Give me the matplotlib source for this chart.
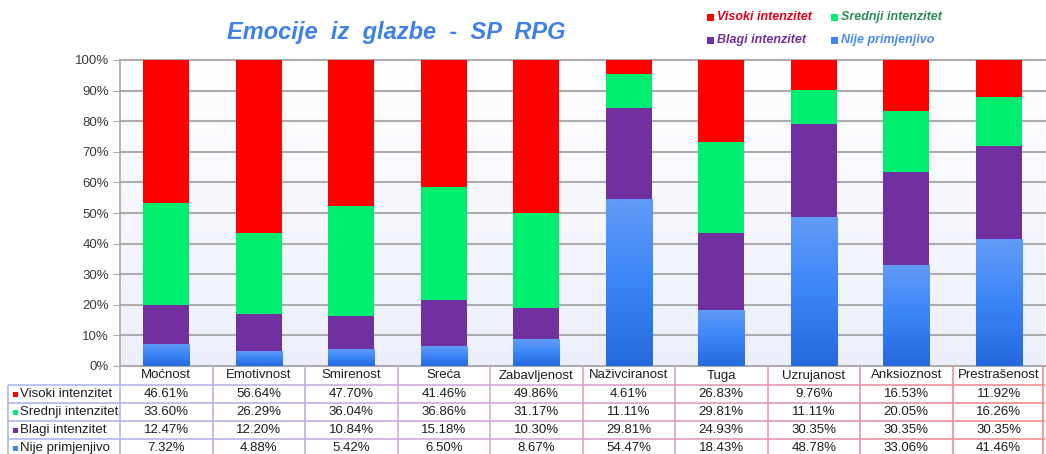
import numpy as np
import matplotlib
matplotlib.use("Agg")
import matplotlib.pyplot as plt
from matplotlib.colors import LinearSegmentedColormap, to_rgb
from matplotlib.collections import LineCollection
from matplotlib.patches import Rectangle

plt.rcParams['font.family'] = ['Liberation Sans', 'DejaVu Sans']

# ---------------- data ----------------
title = "Emocije  iz  glazbe  -  SP  RPG"
categories = ["Moćnost", "Emotivnost", "Smirenost", "Sreća", "Zabavljenost",
              "Naživciranost", "Tuga", "Uzrujanost", "Anksioznost", "Prestrašenost"]
series_names = ["Visoki intenzitet", "Srednji intenzitet", "Blagi intenzitet", "Nije primjenjivo"]
visoki = [46.61, 56.64, 47.70, 41.46, 49.86, 4.61, 26.83, 9.76, 16.53, 11.92]
srednji = [33.60, 26.29, 36.04, 36.86, 31.17, 11.11, 29.81, 11.11, 20.05, 16.26]
blagi = [12.47, 12.20, 10.84, 15.18, 10.30, 29.81, 24.93, 30.35, 30.35, 30.35]
nije = [7.32, 4.88, 5.42, 6.50, 8.67, 54.47, 18.43, 48.78, 33.06, 41.46]
y_ticks = [0, 10, 20, 30, 40, 50, 60, 70, 80, 90, 100]

series_values = [visoki, srednji, blagi, nije]
series_colors = ["#ff0000", "#00ee70", "#7030a0", "#3f86f5"]
legend_text_colors = ["#e0001a", "#2f8a55", "#7030a0", "#4a88f0"]

W, H = 1046, 454
fig = plt.figure(figsize=(W / 100, H / 100), dpi=100)
fig.patch.set_facecolor("white")

def fx(px):
    return px / W

def fy(py):
    return 1 - py / H

L, R, T, B = 120, 1045, 60, 366
ax = fig.add_axes([fx(L), fy(B), fx(R) - fx(L), fy(T) - fy(B)])
n = len(categories)
x = np.arange(n)

# background gradient
bg = LinearSegmentedColormap.from_list("bg", ["#eceffa", "#ffffff"])
ax.imshow(np.linspace(0, 1, 256).reshape(-1, 1), cmap=bg, origin="lower",
          extent=[0, 1, 0, 1], transform=ax.transAxes, aspect="auto", zorder=0)

# stacked bars (bottom to top: nije, blagi, srednji, visoki)
order = [3, 2, 1, 0]
bottom = np.zeros(n)
blue_grad = LinearSegmentedColormap.from_list("bl", ["#2569dd", "#3a85f7", "#629bf7"])
for idx in order:
    vals = np.array(series_values[idx])
    bars = ax.bar(x, vals, 0.5, bottom=bottom, color=series_colors[idx],
                  edgecolor="none", zorder=2)
    if idx == 3:
        for p in bars.patches:
            x0, y0 = p.get_x(), p.get_y()
            w, h = p.get_width(), p.get_height()
            im = ax.imshow(np.linspace(0, 1, 128).reshape(-1, 1), cmap=blue_grad,
                           origin="lower", extent=[x0, x0 + w, y0, y0 + h],
                           aspect="auto", zorder=2.5)
            im.set_clip_path(p)
    bottom += vals

ax.set_xlim(-0.5, n - 0.5)
ax.set_ylim(0, 100)
ax.set_yticks(y_ticks)
ax.set_yticklabels([f"{t}%" for t in y_ticks])
ax.set_xticks([])
ax.yaxis.grid(True, color="#acacac", lw=1.5, zorder=1)
for gl in ax.get_ygridlines():
    gl.set_clip_on(False)
ax.set_axisbelow(True)
for s in ["top", "right", "bottom"]:
    ax.spines[s].set_visible(False)
ax.spines["left"].set_color("#a8a8a8")
ax.spines["left"].set_linewidth(1.2)
ax.tick_params(axis="y", length=5, color="#a8a8a8", labelcolor="#3a3a3a",
               labelsize=9.5, pad=3)

# ---------------- overlay (pixel coordinates) ----------------
ov = fig.add_axes([0, 0, 1, 1], zorder=5)
ov.set_xlim(0, W)
ov.set_ylim(H, 0)
ov.axis("off")
ov.patch.set_alpha(0)

# title
ov.text(396, 33, title, ha="center", va="center", fontsize=17,
        fontweight="bold", fontstyle="italic", color="#3f80ea")

# legend
leg_pos = [(710, 17), (834, 17), (710, 40), (834, 40)]
for i, (lx, ly) in enumerate(leg_pos):
    ov.add_patch(Rectangle((lx - 3.5, ly - 3.5), 7, 7, color=series_colors[i], lw=0))
    ov.text(lx + 7, ly, series_names[i], ha="left", va="center", fontsize=9,
            fontweight="bold", fontstyle="italic", color=legend_text_colors[i])

# table lines
col_w = (R - L) / n
stops_x = [8, 520, 1045]
stops_c = [np.array(to_rgb("#a9baf2")), np.array(to_rgb("#d8a6d6")),
           np.array(to_rgb("#f08a8a"))]

def line_color(px):
    return tuple(np.array([np.interp(px, stops_x, [c[k] for c in stops_c]) for k in range(3)]))

row_y = [385, 403, 421, 439, 457]
segs, cols = [], []
for yy in row_y:
    xs = np.linspace(8, R, 120)
    for a, b in zip(xs[:-1], xs[1:]):
        segs.append([(a, yy), (b, yy)])
        cols.append(line_color((a + b) / 2))
# vertical lines
segs.append([(8, 385), (8, 457)])
cols.append(line_color(8))
for k in range(n + 1):
    vx = L + col_w * k
    if k == n:
        vx = R - 2
    segs.append([(vx, B), (vx, 457)])
    cols.append(line_color(vx) if k > 0 else line_color(60))
ov.add_collection(LineCollection(segs, colors=cols, linewidths=1.2))

# category labels
for i, c in enumerate(categories):
    cx = L + col_w * (i + 0.5)
    ov.text(cx, 375.5, c, ha="center", va="center", fontsize=9.5, color="#1e1e1e")

# data rows
for r, name in enumerate(series_names):
    cy = (row_y[r] + row_y[r + 1]) / 2
    ov.add_patch(Rectangle((12.5, cy - 2.5), 5, 5, color=series_colors[r], lw=0))
    ov.text(20, cy, name, ha="left", va="center", fontsize=9.5, color="#1e1e1e")
    for i, v in enumerate(series_values[r]):
        cx = L + col_w * (i + 0.5)
        ov.text(cx, cy, f"{v:.2f}%", ha="center", va="center", fontsize=9.5,
                color="#1e1e1e")

fig.savefig("out.png", dpi=100)
